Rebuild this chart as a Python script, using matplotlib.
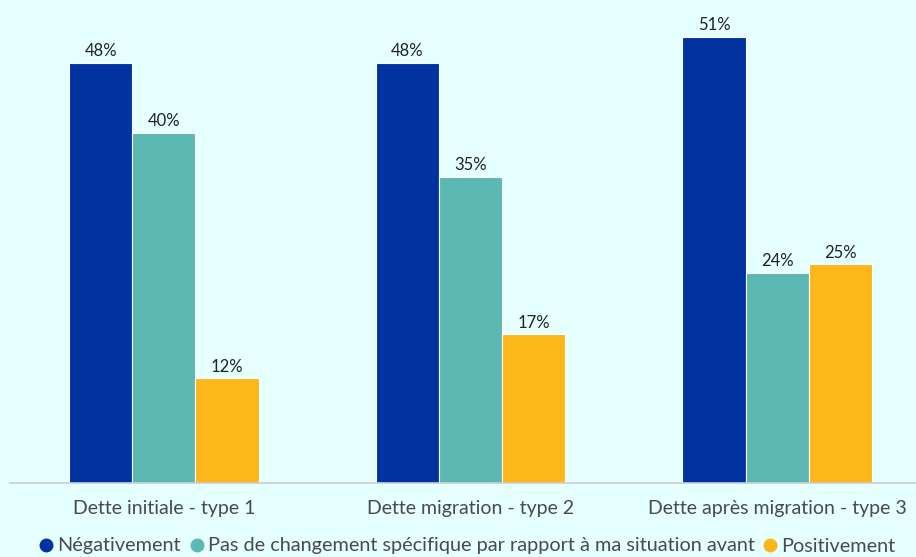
import matplotlib.pyplot as plt
from matplotlib.lines import Line2D
import numpy as np

plt.rcParams['font.family'] = ['Lato', 'DejaVu Sans']

categories = ['Dette initiale - type 1', 'Dette migration - type 2', 'Dette après migration - type 3']
series = ['Négativement', 'Pas de changement spécifique par rapport à ma situation avant', 'Positivement']
negatif = [48, 48, 51]
neutre = [40, 35, 24]
positif = [12, 17, 25]
colors = ['#0033A0', '#5CB8B2', '#FDB71A']

bg = '#E6FFFF'
fig = plt.figure(figsize=(9.16, 5.57), dpi=100, facecolor=bg)
ax = fig.add_axes([10 / 916, 74 / 557, 906 / 916, 483 / 557], facecolor=bg)

x = np.arange(len(categories))
w = 0.206
for i, (vals, c) in enumerate(zip([negatif, neutre, positif], colors)):
    bars = ax.bar(x + (i - 1) * w, vals, w, color=c, edgecolor='white', linewidth=0.8)
    for b, v in zip(bars, vals):
        ax.text(b.get_x() + b.get_width() / 2, v + 0.4, f'{v}%', ha='center', va='bottom',
                fontsize=12, color='#222222')

ax.set_xlim(-0.502, 2.453)
ax.set_ylim(0, 55.2)
ax.set_xticks(x)
ax.set_xticklabels(categories, fontsize=14, color='#4a4a4a')
ax.tick_params(axis='x', length=0, pad=12)
ax.set_yticks([])
for s in ['top', 'right', 'left']:
    ax.spines[s].set_visible(False)
ax.spines['bottom'].set_color('#c8d0d0')
ax.spines['bottom'].set_linewidth(1.2)

handles = [Line2D([], [], marker='o', linestyle='', markersize=9, color=c) for c in colors]
fig.legend(handles, series, loc='center', bbox_to_anchor=(466 / 916, 1 - 546 / 557), ncol=3,
           frameon=False, fontsize=14.3, labelcolor='#4a4a4a', handletextpad=0.05,
           columnspacing=0.3, handlelength=1.0, borderpad=0)

fig.savefig('out.png', dpi=100, facecolor=bg)
